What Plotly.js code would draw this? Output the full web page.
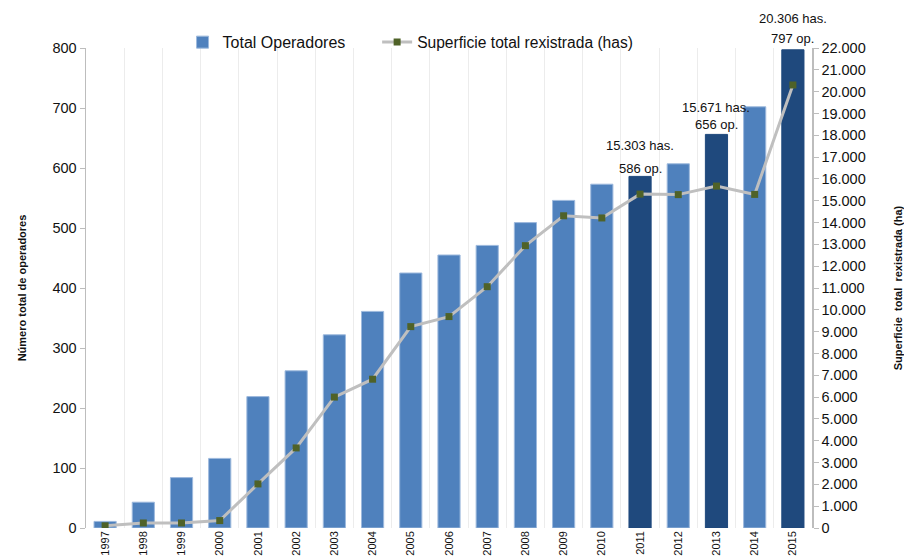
<!DOCTYPE html>
<html>
<head>
<meta charset="utf-8">
<script src="https://cdn.plot.ly/plotly-3.0.1.min.js"></script>
<style>html,body{margin:0;padding:0;background:#fff;}#chart{width:904px;height:560px;}</style>
</head>
<body>
<div id="chart"></div>
<script>
const years = ['1997','1998','1999','2000','2001','2002','2003','2004','2005','2006','2007','2008','2009','2010','2011','2012','2013','2014','2015'];
const totalOperadores = [11, 43, 84, 116, 219, 262, 322, 361, 425, 455, 471, 509, 546, 573, 586, 607, 656, 702, 797];
const superficie = [100, 230, 230, 340, 2020, 3670, 6000, 6820, 9230, 9690, 11060, 12940, 14310, 14210, 15303, 15280, 15671, 15290, 20306];
const highlightYears = ['2011', '2013', '2015'];
const leftTicks = [0, 100, 200, 300, 400, 500, 600, 700, 800];
const rightTicks = [0,1000,2000,3000,4000,5000,6000,7000,8000,9000,10000,11000,12000,13000,14000,15000,16000,17000,18000,19000,20000,21000,22000];

// label offsets (style only)
const opShift = {'2011': -2, '2013': 0, '2015': 2};
const haShift = {'2011': 21, '2013': 17, '2015': 22};

const FONT = 'Liberation Sans, Arial, sans-serif';
const LIGHT = '#4F81BD', DARK = '#1F497D';

function fmt(n) { return String(n).replace(/\B(?=(\d{3})+(?!\d))/g, '.'); }

const isHi = years.map(y => highlightYears.includes(y));

const barTrace = {
  type: 'bar', name: 'Total Operadores', x: years, y: totalOperadores,
  legend: 'legend',
  marker: { color: isHi.map(h => h ? DARK : LIGHT),
            line: { color: isHi.map(h => h ? DARK : '#9DB9DD'), width: 1 } },
  hoverinfo: 'skip'
};
const lineTrace = {
  type: 'scatter', mode: 'lines+markers', name: 'Superficie total rexistrada (has)',
  x: years, y: superficie, yaxis: 'y2', legend: 'legend2',
  line: { color: '#BFBFBF', width: 3 },
  marker: { symbol: 'square', size: 7, color: '#4F6228' },
  hoverinfo: 'skip'
};

const annotations = [];
years.forEach((y, i) => {
  if (!isHi[i]) return;
  annotations.push({ x: i, y: totalOperadores[i], xref: 'x', yref: 'y', yanchor: 'bottom',
    text: totalOperadores[i] + ' op.', showarrow: false, yshift: opShift[y],
    font: { family: FONT, size: 13, color: '#111' } });
  annotations.push({ x: i, y: totalOperadores[i], xref: 'x', yref: 'y', yanchor: 'bottom',
    text: fmt(superficie[i]) + ' has.', showarrow: false, yshift: haShift[y],
    font: { family: FONT, size: 13, color: '#111' } });
});

const layout = {
  width: 904, height: 560,
  margin: { l: 86, r: 92, t: 48, b: 32 },
  paper_bgcolor: '#fff', plot_bgcolor: '#fff',
  font: { family: FONT, size: 13, color: '#111' },
  separators: ',.',
  bargap: 0.42,
  showlegend: true,
  legend: { orientation: 'h', x: 0.133, y: 1.012, xanchor: 'left', yanchor: 'middle',
            font: { family: FONT, size: 16, color: '#111' }, bgcolor: 'rgba(0,0,0,0)' },
  legend2: { orientation: 'h', x: 0.401, y: 1.012, xanchor: 'left', yanchor: 'middle',
            font: { family: FONT, size: 15.6, color: '#111' }, bgcolor: 'rgba(0,0,0,0)' },
  xaxis: {
    type: 'category', categoryorder: 'array', categoryarray: years,
    range: [-0.5, years.length - 0.5], autorange: false,
    tickson: 'boundaries', showgrid: true, gridcolor: '#ECECEC', gridwidth: 1,
    ticks: '', tickangle: -90, tickfont: { family: FONT, size: 11, color: '#111' },
    showline: false, zeroline: false, fixedrange: true
  },
  yaxis: {
    range: [0, 800], tickvals: leftTicks, ticktext: leftTicks.map(String),
    showgrid: false, zeroline: false, showline: true, linecolor: '#BDBDBD', linewidth: 1.5,
    ticks: 'outside', ticklen: 5, tickcolor: '#BDBDBD',
    tickfont: { family: FONT, size: 14.5, color: '#111' },
    title: { text: '<b>Número total de operadores</b>', standoff: 23,
             font: { family: FONT, size: 11, color: '#111' } }
  },
  yaxis2: {
    overlaying: 'y', side: 'right', range: [0, 22000],
    tickvals: rightTicks, ticktext: rightTicks.map(fmt),
    showgrid: false, zeroline: false, showline: true, linecolor: '#BDBDBD', linewidth: 1.5,
    ticks: 'outside', ticklen: 5, tickcolor: '#BDBDBD',
    tickfont: { family: FONT, size: 14.5, color: '#111' },
    title: { text: '<b>Superficie  total  rexistrada (ha)</b>', standoff: 29,
             font: { family: FONT, size: 11, color: '#111' } }
  },
  annotations: annotations
};

Plotly.newPlot('chart', [barTrace, lineTrace], layout, { displayModeBar: false, staticPlot: true });
</script>
</body>
</html>
